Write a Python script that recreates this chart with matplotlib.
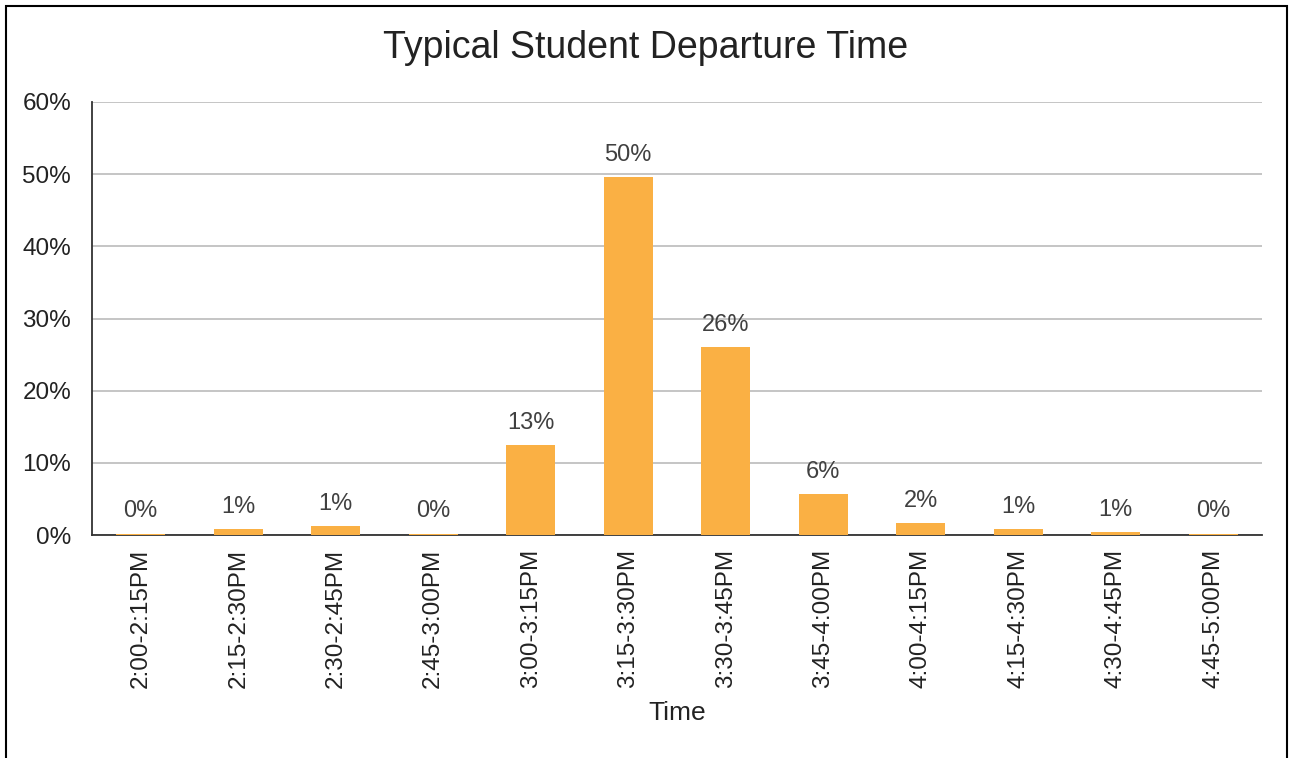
import numpy as np
import matplotlib.pyplot as plt
from matplotlib.patches import Rectangle

plt.rcParams['font.family'] = ['Liberation Sans', 'DejaVu Sans']

categories = ["2:00-2:15PM", "2:15-2:30PM", "2:30-2:45PM", "2:45-3:00PM",
              "3:00-3:15PM", "3:15-3:30PM", "3:30-3:45PM", "3:45-4:00PM",
              "4:00-4:15PM", "4:15-4:30PM", "4:30-4:45PM", "4:45-5:00PM"]
# share of students (%)
values = [0.2, 0.8, 1.3, 0.2, 12.5, 49.6, 26.1, 5.7, 1.6, 0.8, 0.45, 0.2]
labels = ["0%", "1%", "1%", "0%", "13%", "50%", "26%", "6%", "2%", "1%", "1%", "0%"]
yticks = [0, 10, 20, 30, 40, 50, 60]

txt = '#404040'
fig = plt.figure(figsize=(12.92, 7.58), dpi=100)
ax = fig.add_axes([92/1292, 1-535/758, (1262-92)/1292, (535-102)/758])

x = np.arange(len(categories))
ax.bar(x, values, width=0.5, color='#FAB044', zorder=3)
for xi, v, lab in zip(x, values, labels):
    ax.annotate(lab, (xi, v), xytext=(0, 8), textcoords='offset points',
                ha='center', va='bottom', fontsize=17, color=txt)

ax.set_xlim(-0.5, len(categories) - 0.5)
ax.set_ylim(0, 60)
ax.set_yticks(yticks)
ax.set_yticklabels([f"{t}%" for t in yticks])
ax.set_xticks(x)
ax.set_xticklabels(categories, rotation=90)
ax.tick_params(axis='both', length=0, labelsize=17.5, labelcolor='#222222')
ax.tick_params(axis='y', pad=15)
ax.tick_params(axis='x', pad=10)
ax.grid(axis='y', color='#c0c0c0', linewidth=1.3, zorder=0)
for s in ['top', 'right']:
    ax.spines[s].set_visible(False)
for s in ['left', 'bottom']:
    ax.spines[s].set_color('#333333')
    ax.spines[s].set_linewidth(1.3)
ax.set_xlabel("Time", fontsize=19, color='#222222', labelpad=9)

fig.text(0.5, 1-48/758, "Typical Student Departure Time", ha='center', va='center',
         fontsize=27, color='#222222')

# outer frame (no bottom edge, cropped)
fig.patches.append(Rectangle((6/1292, -0.01), (1287-6)/1292, 1-6/758+0.01,
                             transform=fig.transFigure, fill=False,
                             edgecolor='black', linewidth=1.5))

plt.savefig("out.png", dpi=100)
